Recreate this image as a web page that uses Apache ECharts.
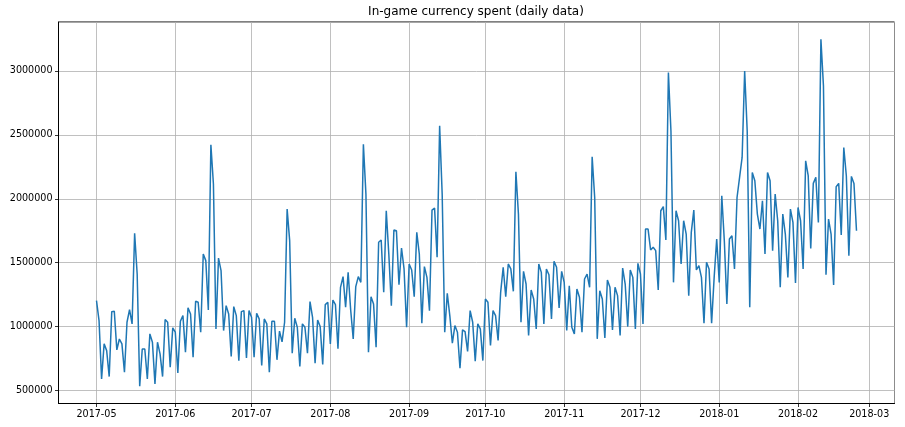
<!DOCTYPE html>
<html>
<head>
<meta charset="utf-8">
<script src="https://cdn.jsdelivr.net/npm/echarts@6/dist/echarts.min.js"></script>
<style>html,body{margin:0;padding:0;background:#fff}#c{width:905px;height:427px}</style>
</head>
<body>
<div id="c"></div>
<script>
// ---- data (daily values, starting 2017-05-01) ----
const startDate = [2017, 4, 1]; // year, monthIndex, day
const titleText = 'In-game currency spent (daily data)';
const yTicks = [500000, 1000000, 1500000, 2000000, 2500000, 3000000];

const may2017 = [1203000,1047000,591000,865000,812000,609000,1117000,1120000,818000,903000,
  865000,643000,1034000,1133000,1021000,1729000,1411000,534000,825000,825000,
  591000,943000,878000,552000,878000,786000,609000,1055000,1034000,682000,990000];
const jun2017 = [956000,638000,1042000,1086000,800000,1148000,1099000,760000,1198000,1190000,
  956000,1568000,1516000,1130000,2422000,2115000,982000,1536000,1438000,969000,
  1164000,1099000,766000,1156000,1086000,734000,1117000,1125000,755000,1125000];
const jul2017 = [1073000,760000,1104000,1060000,695000,1060000,1021000,643000,1042000,1042000,
  740000,964000,880000,1034000,1919000,1672000,792000,1065000,995000,688000,
  1021000,995000,792000,1195000,1073000,714000,1052000,1000000,703000,1172000,1190000];
const aug2017 = [865000,1208000,1172000,826000,1307000,1391000,1151000,1424000,1130000,904000,
  1313000,1391000,1346000,2427000,2036000,800000,1234000,1177000,839000,1660000,
  1677000,1268000,1906000,1568000,1164000,1755000,1750000,1328000,1615000,1451000,995000];
const sep2017 = [1490000,1443000,1234000,1737000,1568000,1026000,1469000,1385000,1125000,1911000,
  1927000,1542000,2570000,2036000,956000,1260000,1086000,870000,1008000,956000,
  674000,974000,961000,805000,1125000,1034000,730000,1021000,982000,734000];
const oct2017 = [1216000,1190000,852000,1125000,1086000,891000,1268000,1464000,1234000,1490000,
  1451000,1276000,2211000,1880000,1034000,1432000,1333000,930000,1286000,1216000,
  982000,1490000,1424000,1021000,1451000,1406000,1060000,1510000,1464000,1146000,1432000];
const nov2017 = [1346000,969000,1320000,995000,943000,1294000,1229000,956000,1372000,1411000,
  1307000,2328000,2010000,904000,1281000,1216000,911000,1365000,1307000,974000,
  1307000,1242000,930000,1458000,1333000,1000000,1443000,1385000,982000,1495000];
const dec2017 = [1411000,1021000,1763000,1763000,1599000,1620000,1594000,1286000,1906000,1938000,
  1677000,2987000,2530000,1346000,1906000,1828000,1490000,1828000,1724000,1242000,
  1737000,1911000,1443000,1477000,1385000,1026000,1503000,1451000,1026000,1385000,1685000];
const jan2018 = [1346000,2023000,1672000,1177000,1685000,1711000,1451000,2010000,2167000,2323000,
  3000000,2531000,1151000,2206000,2141000,1880000,1763000,1984000,1568000,2206000,
  2141000,1594000,2036000,1828000,1307000,1880000,1724000,1385000,1919000,1815000,1341000];
const feb2018 = [1932000,1828000,1451000,2297000,2180000,1612000,2120000,2167000,1815000,3247000,
  2883000,1406000,1841000,1724000,1326000,2094000,2120000,1716000,2401000,2180000,
  1555000,2175000,2120000,1750000];

// ---- build ----
const values = [].concat(may2017, jun2017, jul2017, aug2017, sep2017, oct2017, nov2017, dec2017, jan2018, feb2018);
const DAY = 86400000;
const seriesData = values.map((v, i) => [new Date(startDate[0], startDate[1], startDate[2] + i).getTime(), v]);
const t0 = seriesData[0][0];
const tN = seriesData[seriesData.length - 1][0];
const xPad = (tN - t0) * 0.05;
const vMin = Math.min(...values), vMax = Math.max(...values);
const yPad = (vMax - vMin) * 0.05;

const chart = echarts.init(document.getElementById('c'), null, {renderer: 'canvas'});
const font = 'DejaVu Sans';
chart.setOption({
  animation: false,
  backgroundColor: '#ffffff',
  title: {
    text: titleText,
    left: 471,
    top: 1,
    textAlign: 'center',
    textStyle: {fontFamily: font, fontSize: 12, fontWeight: 'normal', color: '#000'}
  },
  grid: {
    left: 58.5, right: 10.5, top: 22, bottom: 23.5,
    containLabel: false, outerBoundsMode: 'none',
    show: true, borderColor: '#000', borderWidth: 1, backgroundColor: 'transparent'
  },
  xAxis: {
    type: 'time',
    min: t0 - xPad,
    max: tN + xPad,
    minInterval: 28 * DAY,
    maxInterval: 31 * DAY,
    axisLine: {show: true, onZero: false, lineStyle: {color: '#000', width: 1}},
    axisTick: {show: true, length: 3.5, lineStyle: {color: '#000', width: 0.8}},
    splitLine: {show: true, lineStyle: {color: '#b0b0b0', width: 0.8}},
    axisLabel: {
      formatter: '{yyyy}-{MM}', color: '#000', fontFamily: font, fontSize: 9.6, margin: 6,
      showMinLabel: false, showMaxLabel: false, hideOverlap: false
    }
  },
  yAxis: {
    type: 'value',
    min: vMin - yPad,
    max: vMax + yPad,
    minInterval: yTicks[1] - yTicks[0],
    maxInterval: yTicks[1] - yTicks[0],
    axisLine: {show: true, lineStyle: {color: '#000', width: 1}},
    axisTick: {show: true, length: 3.5, lineStyle: {color: '#000', width: 0.8}},
    splitLine: {show: true, lineStyle: {color: '#b0b0b0', width: 0.8}},
    axisLabel: {
      color: '#000', fontFamily: font, fontSize: 9.6, margin: 6,
      showMinLabel: false, showMaxLabel: false,
      formatter: v => yTicks.includes(v) ? String(v) : ''
    }
  },
  series: [{
    type: 'line',
    data: seriesData,
    showSymbol: false,
    symbol: 'none',
    lineStyle: {color: '#1f77b4', width: 1.5},
    itemStyle: {color: '#1f77b4'}
  }]
});
</script>
</body>
</html>
